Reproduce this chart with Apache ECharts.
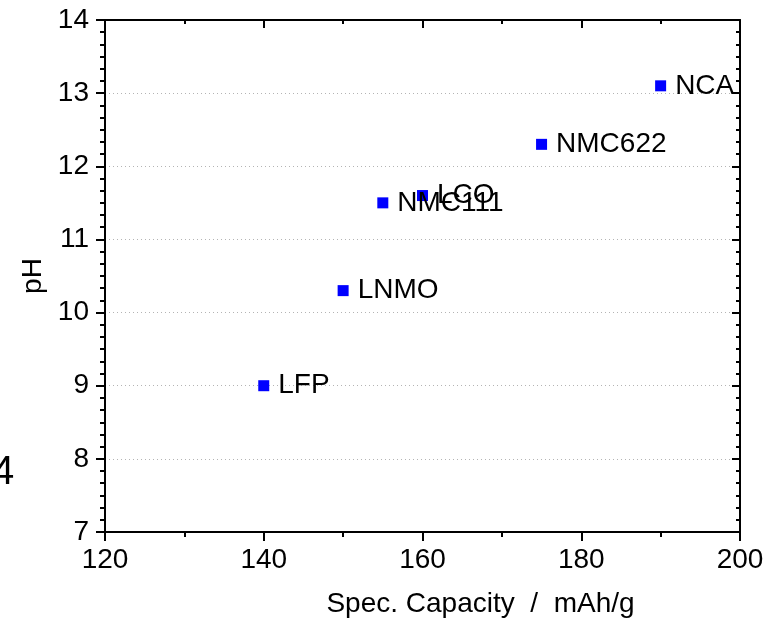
<!DOCTYPE html>
<html>
<head>
<meta charset="utf-8">
<script src="https://cdn.jsdelivr.net/npm/echarts@6/dist/echarts.min.js"></script>
<style>
  html, body { margin: 0; padding: 0; background: #fff; }
  #chart { width: 773px; height: 626px; }
</style>
</head>
<body>
<div id="chart"></div>
<script>
// Cathode materials: specific capacity vs. pH
const materials = ['LFP', 'LNMO', 'NMC111', 'LCO', 'NMC622', 'NCA'];
const capacity = [140, 150, 155, 160, 175, 190];
const phValues = [9.0, 10.3, 11.5, 11.6, 12.3, 13.1];

const xTicks = { min: 120, max: 200, interval: 20 };
const yTicks = { min: 7, max: 14, interval: 1 };

const FONT = '"Liberation Sans", Arial, sans-serif';
const FS = 28;
const black = '#000';

const points = materials.map((m, i) => ({ name: m, value: [capacity[i], phValues[i]] }));

function axisBase(extra) {
  return Object.assign({
    type: 'value',
    axisLine: { show: true, onZero: false, lineStyle: { color: black, width: 2 } },
    splitLine: { show: false },
    axisLabel: { show: false },
    nameTextStyle: { color: black, fontSize: FS, fontFamily: FONT }
  }, extra);
}

const chart = echarts.init(document.getElementById('chart'), null, { renderer: 'canvas' });
chart.setOption({
  backgroundColor: '#fff',
  animation: false,
  // leftover digit cut off at the page's left edge
  title: {
    text: '4', left: -8, top: 453, padding: 0,
    textStyle: { color: black, fontSize: 40, fontFamily: FONT, fontWeight: 'normal' }
  },
  grid: { left: 105, right: 33, top: 20, bottom: 94, containLabel: false },
  xAxis: [
    axisBase({
      position: 'bottom',
      min: xTicks.min, max: xTicks.max, interval: xTicks.interval,
      name: 'Spec. Capacity  /  mAh/g',
      nameLocation: 'middle', nameGap: 58,
      nameTextStyle: { color: black, fontSize: FS, fontFamily: FONT, padding: [0, 0, 0, 116] },
      axisTick: { show: true, inside: false, length: 9, lineStyle: { color: black, width: 2 } },
      minorTick: { show: true, splitNumber: 2, length: 5, lineStyle: { color: black, width: 2 } },
      axisLabel: { show: true, color: black, fontSize: FS, fontFamily: FONT, margin: 14 }
    }),
    axisBase({
      position: 'top',
      min: xTicks.min, max: xTicks.max, interval: xTicks.interval,
      axisTick: { show: true, inside: true, length: 8, lineStyle: { color: black, width: 2 } },
      minorTick: { show: true, splitNumber: 2, length: 4, lineStyle: { color: black, width: 2 } }
    })
  ],
  yAxis: [
    axisBase({
      position: 'left',
      min: yTicks.min, max: yTicks.max, interval: yTicks.interval,
      name: 'pH',
      nameLocation: 'middle', nameGap: 56,
      axisTick: { show: true, inside: false, length: 9, lineStyle: { color: black, width: 2 } },
      minorTick: { show: true, splitNumber: 6, length: 5, lineStyle: { color: black, width: 2 } },
      axisLabel: { show: true, color: black, fontSize: FS, fontFamily: FONT, margin: 16 },
      splitLine: { show: true, lineStyle: { color: '#b4b4b4', width: 1, type: [1, 3] } }
    }),
    axisBase({
      position: 'right',
      min: yTicks.min, max: yTicks.max, interval: yTicks.interval,
      axisTick: { show: true, inside: true, length: 8, lineStyle: { color: black, width: 2 } },
      minorTick: { show: true, splitNumber: 6, length: 4, lineStyle: { color: black, width: 2 } }
    })
  ],
  series: [
    {
      type: 'scatter',
      xAxisIndex: 0, yAxisIndex: 0,
      symbol: 'rect', symbolSize: 11,
      itemStyle: { color: '#0000ff', opacity: 1 },
      label: {
        show: true, position: 'right', distance: 9,
        formatter: '{b}', color: black, fontSize: FS, fontFamily: FONT
      },
      data: points
    }
  ]
});
</script>
</body>
</html>
